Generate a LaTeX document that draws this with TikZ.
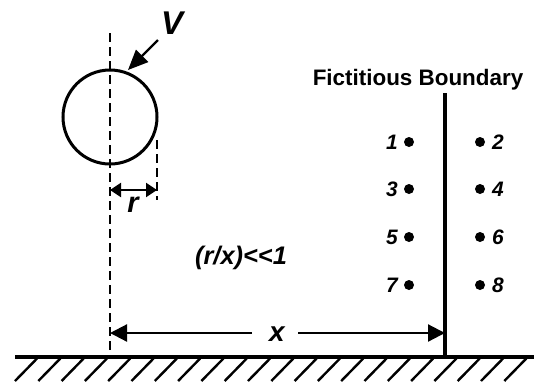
\documentclass[tikz,border=0pt]{standalone}
\usepackage{fontspec}
\setmainfont{Liberation Sans}
\usetikzlibrary{arrows.meta}
\begin{document}
\begin{tikzpicture}[x=1bp,y=-1bp,
  lbl/.style={font=\bfseries\itshape\fontsize{#1}{#1}\selectfont, inner sep=0pt},
  dashline/.style={line width=2bp, dash pattern=on 9bp off 5bp},
  pt/.style={circle, fill=black, inner sep=0pt, minimum size=10bp},
  hatch/.style={line width=2.4bp}]
\useasboundingbox (0,0) rectangle (534,381);
% body
\node[circle, draw, line width=3bp, minimum size=94bp, inner sep=0pt] (ball) at (110,117) {};
\coordinate (axtop) at (110,33);
\coordinate (axbot) at (110,357);
\draw[dashline] (axtop) -- (axbot);
\coordinate (rtop) at (157,140);
\coordinate (rbot) at (157,200);
\draw[dashline] (rtop) -- (rbot);
% r dimension
\coordinate (rL) at (110,190);
\coordinate (rR) at (157,190);
\draw[line width=2.2bp, {Triangle[length=11bp,width=14bp]}-{Triangle[length=11bp,width=14bp]}] (rL) -- (rR);
\node[lbl=29, anchor=base] (rlab) at (133,212) {r};
% V arrow
\node[lbl=33, anchor=base] (vlab) at (172,34) {V};
\coordinate (vs) at (158,40);
\coordinate (ve) at (128,70);
\draw[line width=2.2bp, -{Triangle[length=20bp,width=17bp]}] (vs) -- (ve);
% ground
\coordinate (gL) at (15,357);
\coordinate (gR) at (534,357);
\draw[line width=3.4bp] (gL) -- (gR);
\foreach \i in {0,...,21}{
  \draw[hatch] ({37+23.3*\i},358.5) -- ({15+23.3*\i},381);
}
% boundary
\coordinate (btop) at (445,93);
\coordinate (bbot) at (445,357);
\draw[line width=3.2bp] (btop) -- (bbot);
\node[font=\bfseries\fontsize{22.5}{22.5}\selectfont, inner sep=0pt, anchor=base] (blab) at (418,85) {Fictitious Boundary};
% points
\foreach \n/\m/\y in {1/2/142,3/4/189,5/6/237,7/8/285}{
  \node[pt] (p\n) at (409,\y) {};
  \node[pt] (p\m) at (480,\y) {};
  \node[lbl=21, anchor=base east] (l\n) at (398,\y+7) {\n};
  \node[lbl=21, anchor=base west] (l\m) at (492,\y+7) {\m};
}
% ratio
\node[lbl=25.5, anchor=base] (ratio) at (241,264) {(r/x){<}{<}1};
% x dimension
\node[lbl=28, anchor=base] (xlab) at (277,341) {x};
\coordinate (xL) at (110,333);
\coordinate (xR) at (445,333);
\coordinate (xgl) at (252,333);
\coordinate (xgr) at (298,333);
\draw[line width=2.2bp, -{Triangle[length=17bp,width=17bp]}] (xgl) -- (xL);
\draw[line width=2.2bp, -{Triangle[length=17bp,width=17bp]}] (xgr) -- (xR);
\end{tikzpicture}
\end{document}
